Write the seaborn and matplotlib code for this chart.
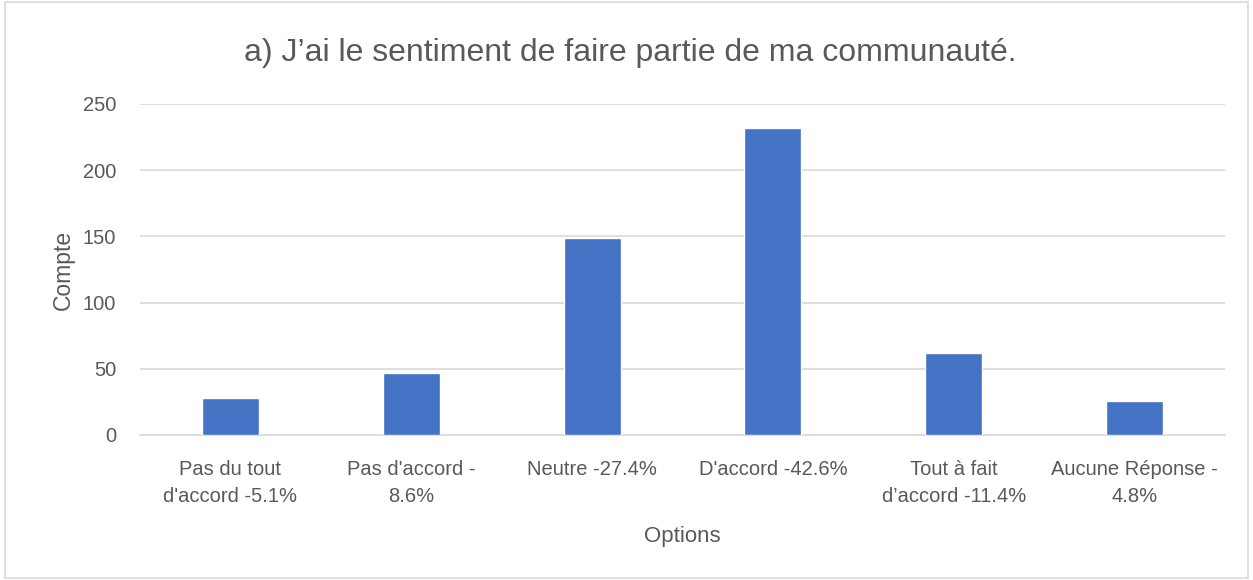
import pandas as pd
import matplotlib.pyplot as plt
import seaborn as sns
from matplotlib.patches import Rectangle

categories = ["Pas du tout\nd'accord -5.1%", "Pas d'accord -\n8.6%", "Neutre -27.4%",
              "D'accord -42.6%", "Tout à fait\nd\u2019accord -11.4%", "Aucune Réponse -\n4.8%"]
counts = [28, 47, 149, 232, 62, 26]
yticks = [0, 50, 100, 150, 200, 250]

df = pd.DataFrame({"Options": categories, "Compte": counts})

sns.set_theme(style="white")
plt.rcParams['font.family'] = ['Liberation Sans', 'DejaVu Sans']
text_col = "#595959"

fig = plt.figure(figsize=(12.53, 5.8), dpi=100)
ax = fig.add_axes([0.1117, 0.25, 0.866, 0.5707])

sns.barplot(data=df, x="Options", y="Compte", color="#4472C4", width=0.315,
            saturation=1, ax=ax, zorder=3)

ax.set_ylim(0, 250)
ax.set_yticks(yticks)
ax.yaxis.grid(True, color="#D9D9D9", linewidth=1.2, zorder=0)
for s in ["top", "right", "left"]:
    ax.spines[s].set_visible(False)
ax.spines["bottom"].set_color("#D9D9D9")
ax.spines["bottom"].set_linewidth(1.2)
ax.tick_params(axis="y", length=0, labelsize=14.5, colors=text_col, pad=17)
ax.tick_params(axis="x", length=0, labelsize=14.5, colors=text_col, pad=18)
for lab in ax.get_xticklabels():
    lab.set_linespacing(1.55)
ax.set_xlabel("Options", fontsize=16, color=text_col, labelpad=14)
ax.set_ylabel("Compte", fontsize=16.5, color=text_col, labelpad=6)
fig.suptitle("a) J\u2019ai le sentiment de faire partie de ma communauté.",
             x=0.503, y=0.908, va="center", fontsize=23, color=text_col)

# chart border
fig.patches.append(Rectangle((0.004, 0.004), 0.992, 0.992, transform=fig.transFigure,
                             fill=False, edgecolor="#D9D9D9", linewidth=1.2))

fig.savefig("out.png", dpi=100)
